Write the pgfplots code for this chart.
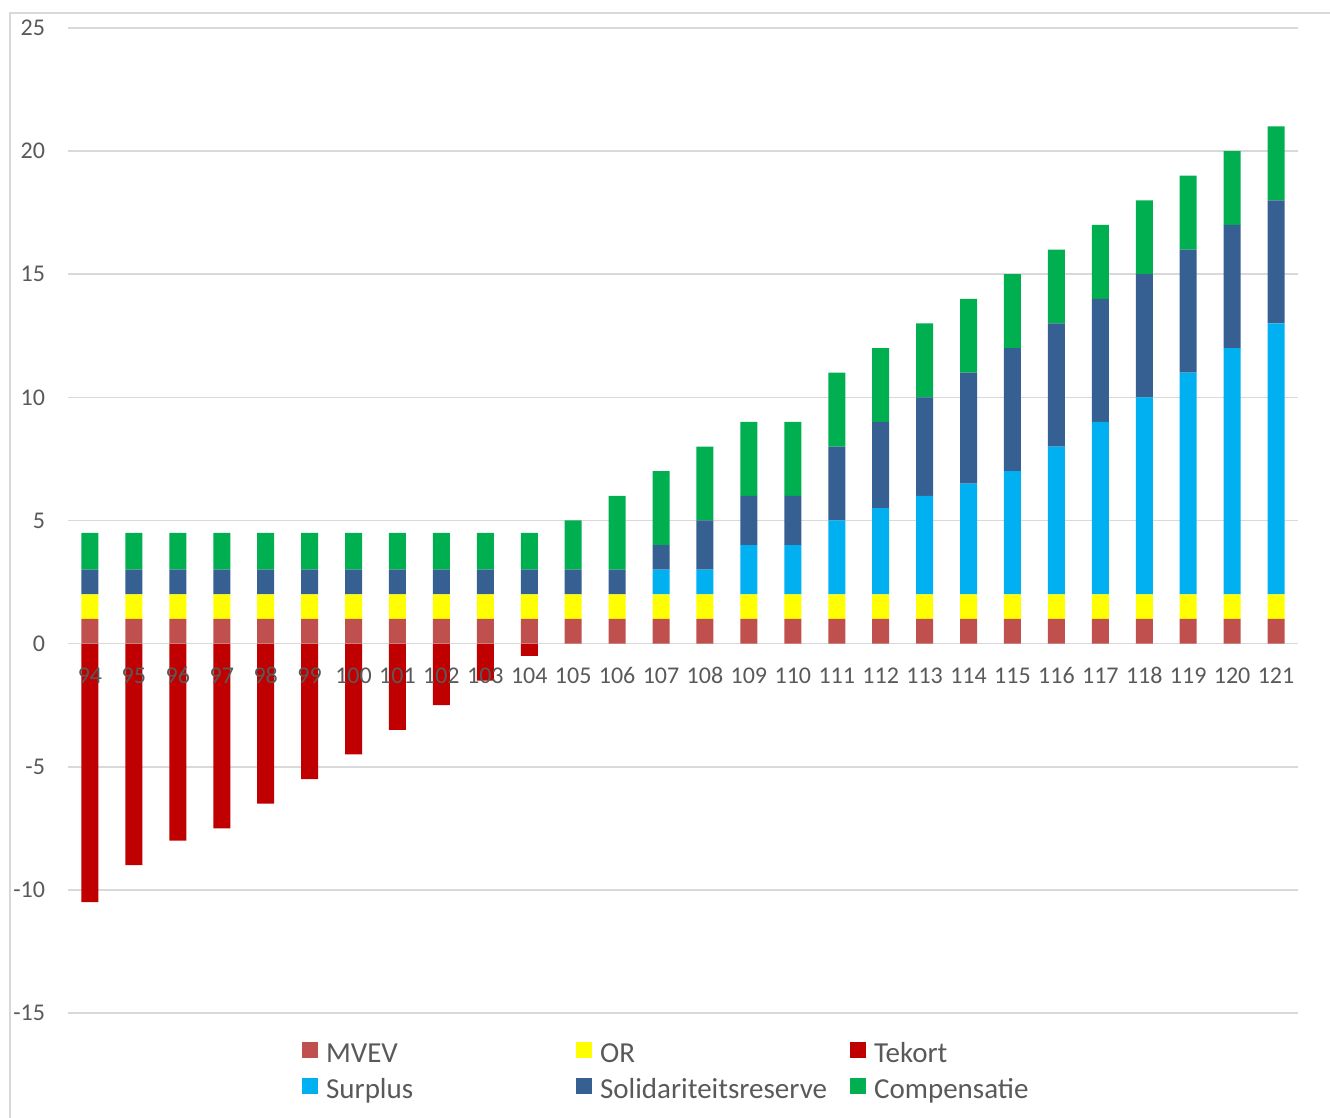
\documentclass[border=0pt]{standalone}
\usepackage{fontspec}
\setmainfont{Carlito}
\usepackage{pgfplots}
\usepackage{pgfplotstable}
\pgfplotsset{compat=1.18}
\definecolor{cmvev}{HTML}{C0504D}
\definecolor{cor}{HTML}{FFFF00}
\definecolor{ctekort}{HTML}{C00000}
\definecolor{csurplus}{HTML}{00B0F0}
\definecolor{csolid}{HTML}{366092}
\definecolor{ccomp}{HTML}{00B050}
\definecolor{cgrid}{HTML}{D9D9D9}
\definecolor{ctext}{HTML}{595959}
\pgfplotstableread{
x mvev or tekort surplus solid comp
0 1 1 -10.5 0 1 1.5
1 1 1 -9 0 1 1.5
2 1 1 -8 0 1 1.5
3 1 1 -7.5 0 1 1.5
4 1 1 -6.5 0 1 1.5
5 1 1 -5.5 0 1 1.5
6 1 1 -4.5 0 1 1.5
7 1 1 -3.5 0 1 1.5
8 1 1 -2.5 0 1 1.5
9 1 1 -1.5 0 1 1.5
10 1 1 -0.5 0 1 1.5
11 1 1 0 0 1 2
12 1 1 0 0 1 3
13 1 1 0 1 1 3
14 1 1 0 1 2 3
15 1 1 0 2 2 3
16 1 1 0 2 2 3
17 1 1 0 3 3 3
18 1 1 0 3.5 3.5 3
19 1 1 0 4 4 3
20 1 1 0 4.5 4.5 3
21 1 1 0 5 5 3
22 1 1 0 6 5 3
23 1 1 0 7 5 3
24 1 1 0 8 5 3
25 1 1 0 9 5 3
26 1 1 0 10 5 3
27 1 1 0 11 5 3
}\data
\newcommand{\lent}[1]{\hspace{4bp}\makebox[125bp][l]{\rule[-5.5bp]{0pt}{18.5bp}#1}}
\begin{document}
\begin{tikzpicture}[x=1bp,y=1bp]
\useasboundingbox (0,0) rectangle (665,559);
\draw[cgrid, line width=0.8bp] (5,0) -- (5,552.5) -- (665,552.5);
\pgfplotsset{common/.style={scale only axis, width=615bp, height=492.5bp,
  at={(34bp,52.5bp)}, anchor=south west, xmin=-0.5, xmax=27.5, ymin=-15, ymax=25,
  bar width=8.5bp}}
\begin{axis}[common, ybar,
  axis line style={draw=none},
  xtick=\empty,
  ytick={-15,-10,-5,0,5,10,15,20,25},
  yticklabels={-15,-10,-5,0,5,10,15,20,25},
  ymajorgrids, grid style={cgrid, line width=0.8bp},
  major tick length=0pt,
  yticklabel style={anchor=east, xshift=-8bp, text=ctext, font=\fontsize{12bp}{14bp}\selectfont},
]
\addplot[fill=ctekort, draw=none] table[x=x, y=tekort]{\data};
\end{axis}
\begin{axis}[common, ybar stacked,
  axis x line*=middle, axis y line=none,
  x axis line style={cgrid, line width=0.8bp},
  xtick={0,...,27},
  xticklabels={94,95,96,97,98,99,100,101,102,103,104,105,106,107,108,109,110,111,112,113,114,115,116,117,118,119,120,121},
  major tick length=0pt,
  xticklabel style={anchor=center, yshift=-16bp, text=ctext, font=\fontsize{12bp}{14bp}\selectfont},
  legend columns=3,
  legend cell align=left,
  legend image code/.code={\fill[#1] (0bp,-3.5bp) rectangle (8bp,4.5bp);},
  legend style={draw=none, fill=none, at={(0.19,-0.023)}, anchor=north west,
    inner sep=0pt, column sep=0pt, row sep=3.5bp,
    nodes={inner sep=0pt, text=ctext},
    font=\fontsize{14.5bp}{17bp}\selectfont},
]
\addplot[fill=cmvev, draw=none] table[x=x, y=mvev]{\data};
\addlegendentry{\lent{MVEV}}
\addplot[fill=cor, draw=none] table[x=x, y=or]{\data};
\addlegendentry{\lent{OR}}
\addlegendimage{fill=ctekort, draw=none}
\addlegendentry{\lent{Tekort}}
\addplot[fill=csurplus, draw=none] table[x=x, y=surplus]{\data};
\addlegendentry{\lent{Surplus}}
\addplot[fill=csolid, draw=none] table[x=x, y=solid]{\data};
\addlegendentry{\lent{Solidariteitsreserve}}
\addplot[fill=ccomp, draw=none] table[x=x, y=comp]{\data};
\addlegendentry{\lent{Compensatie}}
\end{axis}
\end{tikzpicture}
\end{document}
